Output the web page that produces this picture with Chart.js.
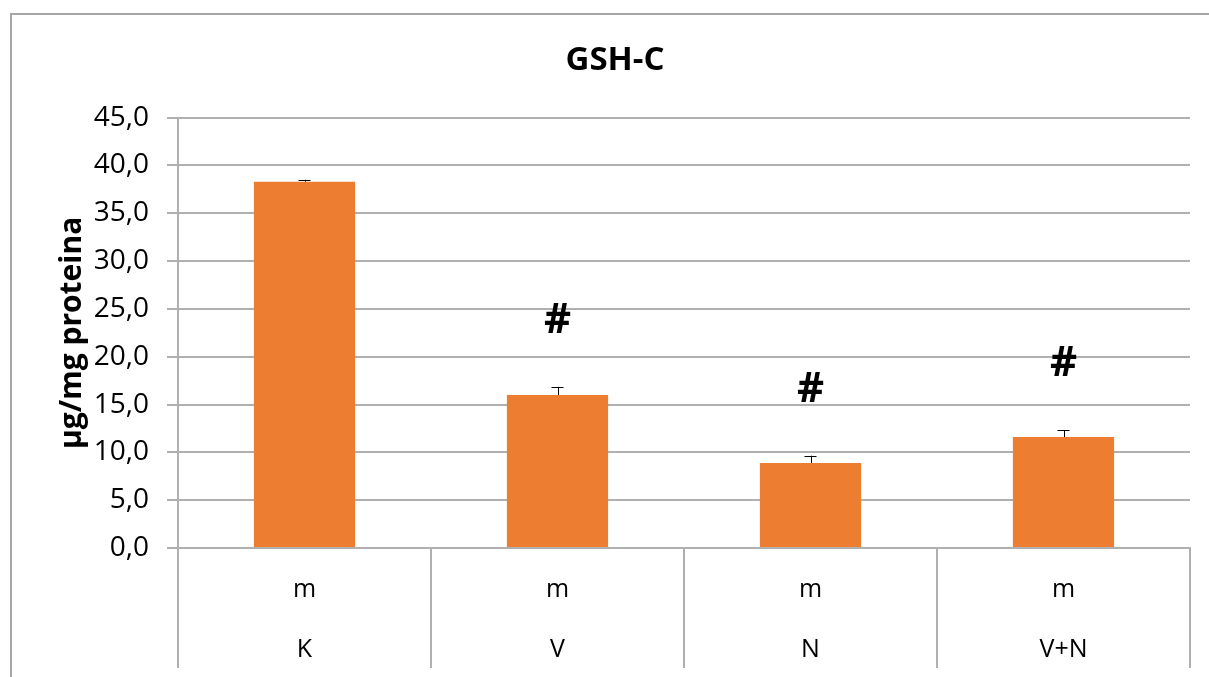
<!DOCTYPE html>
<html>
<head>
<meta charset="utf-8">
<script src="https://cdn.jsdelivr.net/npm/chart.js@4"></script>
<style>
  html, body { margin: 0; padding: 0; background: #fff; }
  #wrap { width: 1209px; height: 677px; }
</style>
</head>
<body>
<div id="wrap"><canvas id="gshChart" width="1209" height="677"></canvas></div>
<script>
// data
const groups = ['K', 'V', 'N', 'V+N'];
const subLabel = 'm';
const gshValues = [38.3, 16.0, 8.9, 11.6];
const gshErrors = [0.2, 0.85, 0.75, 0.7];
const sigMarks = ['', '#', '#', '#'];
const yTicks = [0, 5, 10, 15, 20, 25, 30, 35, 40, 45];

const FONT = "'Open Sans', 'DejaVu Sans', sans-serif";
const GRID = '#b0b0b0';

// outer frame like the office chart area
const framePlugin = {
  id: 'frame',
  beforeDraw(chart) {
    const c = chart.ctx;
    c.save();
    c.fillStyle = '#fff';
    c.fillRect(0, 0, chart.width, chart.height);
    c.strokeStyle = '#a6a6a6';
    c.lineWidth = 2;
    c.strokeRect(11, 14, chart.width + 20, chart.height + 20);
    c.restore();
  }
};

// plus-only error bars and the # marks
const errorPlugin = {
  id: 'errBars',
  afterDatasetsDraw(chart) {
    const c = chart.ctx;
    const y = chart.scales.y;
    const meta = chart.getDatasetMeta(0);
    c.save();
    meta.data.forEach((bar, i) => {
      const top = y.getPixelForValue(gshValues[i] + gshErrors[i]);
      const base = y.getPixelForValue(gshValues[i]);
      c.strokeStyle = '#000';
      c.lineWidth = 1;
      c.beginPath();
      c.moveTo(Math.round(bar.x) + 0.5, base);
      c.lineTo(Math.round(bar.x) + 0.5, top);
      c.moveTo(bar.x - 6, Math.round(top) + 0.5);
      c.lineTo(bar.x + 6, Math.round(top) + 0.5);
      c.stroke();
      if (sigMarks[i]) {
        c.fillStyle = '#000';
        c.font = 'bold 42px ' + FONT;
        c.textAlign = 'center';
        c.textBaseline = 'middle';
        c.fillText(sigMarks[i], bar.x, top - 66);
      }
    });
    c.restore();
  }
};

const ctx = document.getElementById('gshChart').getContext('2d');

const gshChart = new Chart(ctx, {
  type: 'bar',
  data: {
    labels: groups.map(g => [subLabel, g]),
    datasets: [{
      label: 'GSH-C',
      data: gshValues,
      backgroundColor: '#ed7d31',
      borderWidth: 0,
      barPercentage: 0.4,
      categoryPercentage: 1.0
    }]
  },
  options: {
    responsive: false,
    animation: false,
    layout: { padding: { left: 40, right: 19, top: 0, bottom: 0 } },
    plugins: {
      legend: { display: false },
      tooltip: { enabled: false },
      title: {
        display: true,
        text: 'GSH-C',
        color: '#000',
        font: { family: FONT, size: 33, weight: 'bold', lineHeight: 1.2 },
        padding: { top: 41, bottom: 37 }
      }
    },
    scales: {
      x: {
        offset: true,
        grid: {
          offset: true,
          drawOnChartArea: false,
          color: GRID,
          lineWidth: 2,
          tickLength: 120
        },
        border: { color: GRID, width: 2 },
        ticks: {
          color: '#000',
          font: { family: FONT, size: 25, lineHeight: 2.4 },
          padding: -108,
          maxRotation: 0,
          autoSkip: false
        },
        afterFit(scale) { scale.height = 129; }
      },
      y: {
        min: 0,
        max: 45,
        afterBuildTicks(scale) { scale.ticks = yTicks.map(v => ({ value: v })); },
        grid: { color: GRID, lineWidth: 2, tickLength: 11 },
        border: { color: GRID, width: 2 },
        ticks: {
          color: '#000',
          font: { family: FONT, size: 28 },
          padding: 18,
          callback: v => v.toFixed(1).replace('.', ',')
        },
        title: {
          display: true,
          text: 'µg/mg proteina',
          color: '#000',
          font: { family: FONT, size: 30, weight: 'bold', lineHeight: 1.2 },
          padding: { top: 14, bottom: 0 }
        },
        afterFit(scale) { scale.width = 138; }
      }
    }
  },
  plugins: [framePlugin, errorPlugin]
});
</script>
</body>
</html>
